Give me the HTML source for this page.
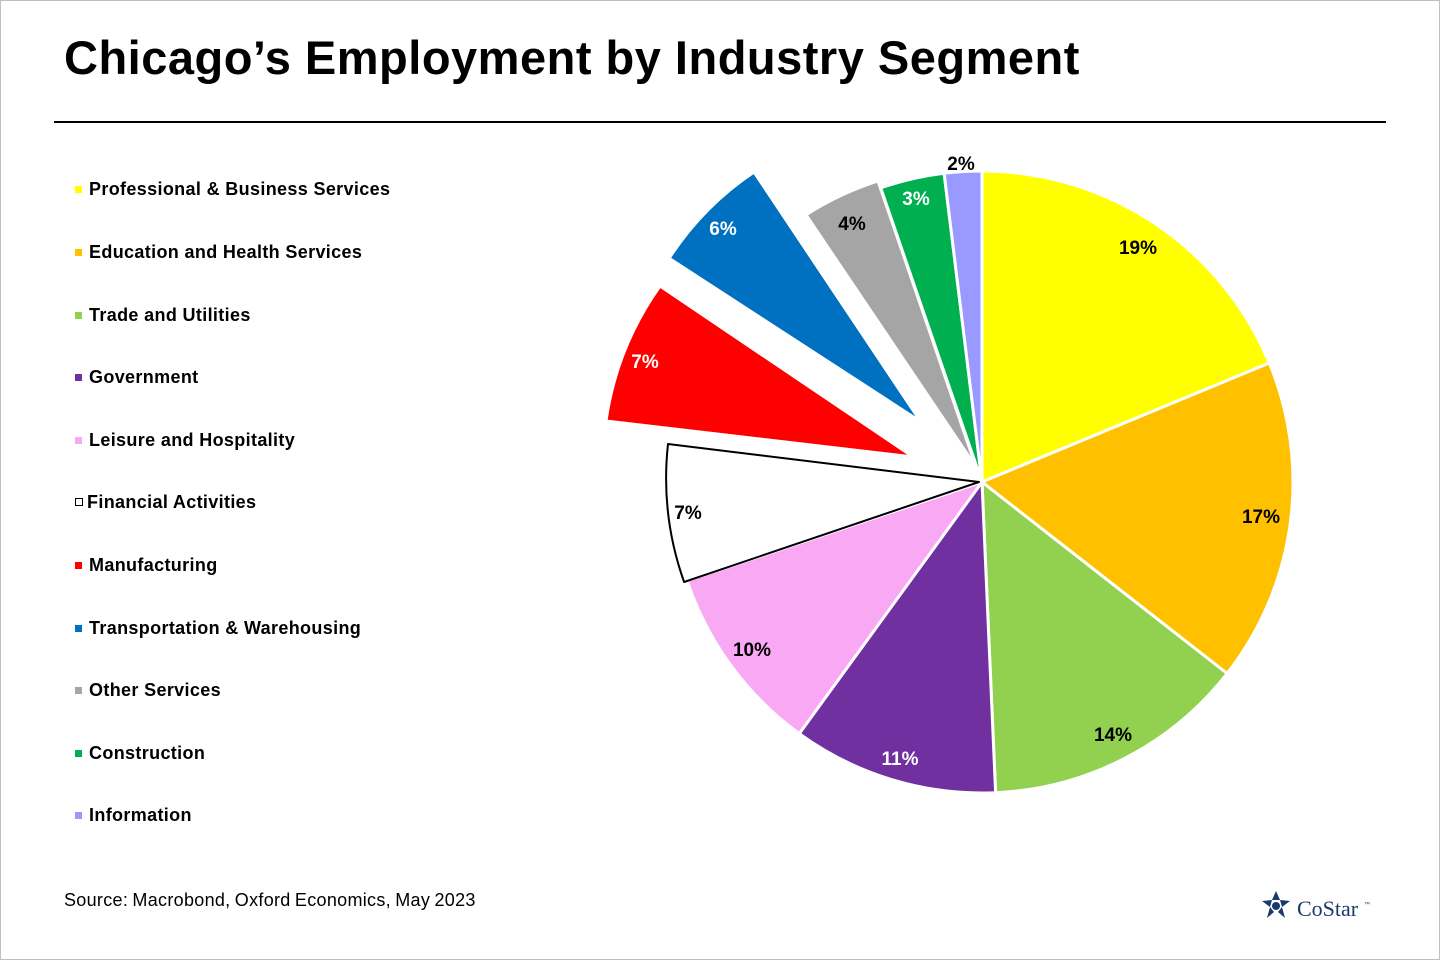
<!DOCTYPE html>
<html><head><meta charset="utf-8"><style>
body{margin:0;width:1440px;height:960px;background:#fff;font-family:"Liberation Sans",Arial,sans-serif;overflow:hidden}
.frame{position:absolute;left:0;top:0;width:1438px;height:958px;border:1px solid #bfbfbf}
h1{position:absolute;left:64px;top:30px;margin:0;font-size:47px;font-weight:bold;color:#000;letter-spacing:0.5px}
.rule{position:absolute;left:54px;top:121px;width:1332px;height:2px;background:#000}
.leg{position:absolute;left:75px;font-size:18px;font-weight:bold;color:#000;letter-spacing:0.35px}
.leg i{display:inline-block;width:7px;height:7px;margin-right:7px;vertical-align:2px}
.src{position:absolute;left:64px;top:890px;font-size:18px;color:#000;letter-spacing:0.3px;word-spacing:-1px}
</style></head><body>
<div class="frame"></div>
<h1>Chicago’s Employment by Industry Segment</h1>
<div class="rule"></div>
<div class="leg" style="top:179px"><i style="background:#ffff00"></i>Professional &amp; Business Services</div>
<div class="leg" style="top:242px"><i style="background:#ffc000"></i>Education and Health Services</div>
<div class="leg" style="top:305px"><i style="background:#92d050"></i>Trade and Utilities</div>
<div class="leg" style="top:367px"><i style="background:#7030a0"></i>Government</div>
<div class="leg" style="top:430px"><i style="background:#f9a9f4"></i>Leisure and Hospitality</div>
<div class="leg" style="top:492px"><i style="background:#fff;border:1.5px solid #000;width:6px;height:6px;margin-right:4px"></i>Financial Activities</div>
<div class="leg" style="top:555px"><i style="background:#ff0000"></i>Manufacturing</div>
<div class="leg" style="top:618px"><i style="background:#0070c0"></i>Transportation &amp; Warehousing</div>
<div class="leg" style="top:680px"><i style="background:#a6a6a6"></i>Other Services</div>
<div class="leg" style="top:743px"><i style="background:#00b050"></i>Construction</div>
<div class="leg" style="top:805px"><i style="background:#9999ff"></i>Information</div>
<div class="src">Source: Macrobond, Oxford Economics, May 2023</div>
<svg width="1440" height="960" style="position:absolute;left:0;top:0">
<g stroke="#fff" stroke-width="3" stroke-linejoin="round">
<path d="M982,482 L982,171 A311,311 0 0 1 1269.3,363 Z" fill="#ffff00"/>
<path d="M982,482 L1269.3,363 A311,311 0 0 1 1227.1,673.5 Z" fill="#ffc000"/>
<path d="M982,482 L1227.1,673.5 A311,311 0 0 1 995.6,792.7 Z" fill="#92d050"/>
<path d="M982,482 L995.6,792.7 A311,311 0 0 1 799.2,733.6 Z" fill="#7030a0"/>
<path d="M982,482 L799.2,733.6 A311,311 0 0 1 687.1,580.7 Z" fill="#f9a9f4"/>
<path d="M982,482 L880.7,187.9 A311,311 0 0 1 944.1,173.3 Z" fill="#00b050"/>
<path d="M982,482 L944.1,173.3 A311,311 0 0 1 982,171 Z" fill="#9999ff"/>
<path d="M976,467 L806,214.9 A305,305 0 0 1 878,181 Z" fill="#a5a5a5"/>
<path d="M920.7,421.7 L669.1,258.3 A300,300 0 0 1 754,172 Z" fill="#0070c0"/>
<path d="M913.4,457 L606,421 A309,309 0 0 1 660,286 Z" fill="#ff0000"/>
</g>
<path d="M979,482 L684.1,582 A311,311 0 0 1 668,444 Z" fill="#fff" stroke="#000" stroke-width="2" stroke-linejoin="round"/>
<g font-family="Liberation Sans,Arial,sans-serif" font-size="19" font-weight="bold" text-anchor="middle">
<text x="1138" y="254" fill="#000">19%</text>
<text x="1261" y="523" fill="#000">17%</text>
<text x="1113" y="741" fill="#000">14%</text>
<text x="900" y="765" fill="#fff">11%</text>
<text x="752" y="656" fill="#000">10%</text>
<text x="688" y="519" fill="#000">7%</text>
<text x="645" y="368" fill="#fff">7%</text>
<text x="723" y="235" fill="#fff">6%</text>
<text x="852" y="230" fill="#000">4%</text>
<text x="916" y="205" fill="#fff">3%</text>
<text x="961" y="170" fill="#000">2%</text>
</g>
<g transform="translate(1276,906)">
<polygon points="0,-15 4,-6 -4,-6" fill="#1a3a6e"/>
<polygon points="14,-5 6,1 4,-6" fill="#1a3a6e"/>
<polygon points="9,12 2,6 6,1" fill="#1a3a6e"/>
<polygon points="-9,12 -6,1 -2,6" fill="#1a3a6e"/>
<polygon points="-14,-5 -4,-6 -6,1" fill="#1a3a6e"/>
<circle cx="0" cy="0" r="4" fill="#1a3a6e"/>
</g>
<text x="1297" y="916" font-family="Liberation Serif,serif" font-size="22" fill="#1a3a6e">CoStar</text>
<text x="1364" y="906" font-family="Liberation Sans,sans-serif" font-size="6" fill="#1a3a6e">™</text>
</svg>
</body></html>
